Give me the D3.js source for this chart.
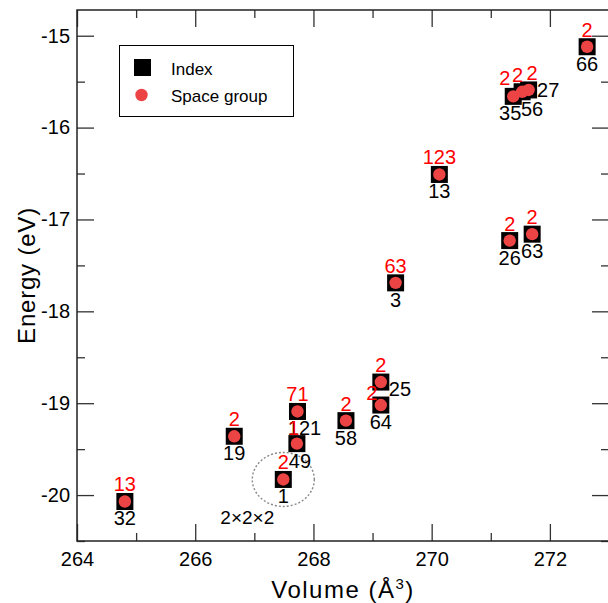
<!DOCTYPE html>
<html><head><meta charset="utf-8">
<script src="https://cdn.jsdelivr.net/npm/d3@7"></script>
<style>
html,body{margin:0;padding:0;background:#fff;}
svg{display:block;font-family:"Liberation Sans",Arial,sans-serif;}
</style></head>
<body>
<svg id="chart" width="608" height="603"></svg>
<script>
// ---- data ----
const indexLabels = [32, 19, 1, 49, 121, 58, 64, 25, 3, 13, 26, 63, 35, 56, 27, 66];
const spaceGroups = [13, 2, 2, 1, 71, 2, 2, 2, 63, 123, 2, 2, 2, 2, 2, 2];
const volumes  = [264.81, 266.66, 267.49, 267.72, 267.73, 268.55, 269.14, 269.14, 269.39, 270.13, 271.32, 271.70, 271.38, 271.53, 271.64, 272.63];
const energies = [-20.07, -19.36, -19.83, -19.44, -19.09, -19.19, -19.02, -18.77, -17.69, -16.51, -17.23, -17.16, -15.66, -15.61, -15.59, -15.12];
const xTicks = [264, 266, 268, 270, 272];
const xMinorTicks = [265, 267, 269, 271, 273];
const yTicks = [-20, -19, -18, -17, -16, -15];
const yMinorTicks = [-20.5, -19.5, -18.5, -17.5, -16.5, -15.5];
const legendItems = ["Index", "Space group"];
const supercellLabel = "2×2×2";
const supercellIndex = 1;

// ---- layout (label placement tweaks) ----
const sgOffset = {64: [-9, -5], 49: [-3, -9], 35: [-8.5, -11.5], 56: [-4.5, -10], 27: [3.5, -10]};
const idxOffset = {25: [8, 14, "start"], 27: [8.5, 7, "start"], 121: [7, 24], 49: [3, 24], 35: [-3, 24], 56: [10, 24]};

const svg = d3.select("#chart");
const L = 77, R = 609, T = 10, B = 541;
const x = d3.scaleLinear().domain([264, 273]).range([L, R]);
const y = d3.scaleLinear().domain([-20.5, -14.72]).range([B, T]);
const axisColor = "#333";
const fmt = d => String(d); // plain hyphen minus as in the reference

function styleAxis(g){
  g.select(".domain").remove();
  g.selectAll(".tick line").attr("stroke", axisColor).attr("stroke-width", 1.3);
  g.selectAll("text").attr("font-size", 20).attr("fill", "#000").attr("font-family", "Liberation Sans, Arial, sans-serif");
}
// bottom
svg.append("g").attr("transform", `translate(0,${B})`)
  .call(d3.axisBottom(x).tickValues(xTicks).tickSizeInner(-17).tickSizeOuter(0).tickPadding(11).tickFormat(fmt))
  .call(styleAxis);
svg.append("g").attr("transform", `translate(0,${B})`)
  .call(d3.axisBottom(x).tickValues(xMinorTicks).tickSizeInner(-8).tickSizeOuter(0).tickFormat(""))
  .call(styleAxis);
// top
svg.append("g").attr("transform", `translate(0,${T})`)
  .call(d3.axisTop(x).tickValues(xTicks).tickSizeInner(-17).tickSizeOuter(0).tickFormat(""))
  .call(styleAxis);
svg.append("g").attr("transform", `translate(0,${T})`)
  .call(d3.axisTop(x).tickValues(xMinorTicks).tickSizeInner(-8).tickSizeOuter(0).tickFormat(""))
  .call(styleAxis);
// left
svg.append("g").attr("transform", `translate(${L},0)`)
  .call(d3.axisLeft(y).tickValues(yTicks).tickSizeInner(-17).tickSizeOuter(0).tickPadding(7).tickFormat(fmt))
  .call(styleAxis);
svg.append("g").attr("transform", `translate(${L},0)`)
  .call(d3.axisLeft(y).tickValues(yMinorTicks).tickSizeInner(-8).tickSizeOuter(0).tickFormat(""))
  .call(styleAxis);
// right
svg.append("g").attr("transform", `translate(${R},0)`)
  .call(d3.axisRight(y).tickValues(yTicks).tickSizeInner(-17).tickSizeOuter(0).tickFormat(""))
  .call(styleAxis);
svg.append("g").attr("transform", `translate(${R},0)`)
  .call(d3.axisRight(y).tickValues(yMinorTicks).tickSizeInner(-8).tickSizeOuter(0).tickFormat(""))
  .call(styleAxis);
// frame
svg.append("rect").attr("x", L).attr("y", T).attr("width", R - L).attr("height", B - T)
  .attr("fill", "none").attr("stroke", "#222").attr("stroke-width", 1.5);

// axis titles
svg.append("text").attr("transform", `translate(35,${(T + B) / 2}) rotate(-90)`)
  .attr("text-anchor", "middle").attr("font-size", 24).attr("letter-spacing", 0.8).text("Energy (eV)");
const xt = svg.append("text").attr("x", (L + R) / 2).attr("y", 598)
  .attr("text-anchor", "middle").attr("font-size", 24).attr("letter-spacing", 1.5);
xt.append("tspan").text("Volume (Å");
xt.append("tspan").attr("font-size", 15).attr("dy", -9).text("3");
xt.append("tspan").attr("dy", 9).text(")");

const pts = indexLabels.map((id, i) => ({id, sg: spaceGroups[i], v: volumes[i], e: energies[i]}));

// supercell ellipse
const sc = pts.find(p => p.id === supercellIndex);
svg.append("ellipse").attr("cx", x(sc.v)).attr("cy", y(sc.e)).attr("rx", 31).attr("ry", 27)
  .attr("fill", "none").attr("stroke", "#888").attr("stroke-width", 1.4).attr("stroke-dasharray", "2,2");
svg.append("text").attr("x", x(sc.v) - 36).attr("y", y(sc.e) + 44.5)
  .attr("text-anchor", "middle").attr("font-size", 19).text(supercellLabel);

// markers
const S = 17;
svg.append("g").selectAll("rect").data(pts).join("rect")
  .attr("x", d => x(d.v) - S / 2).attr("y", d => y(d.e) - S / 2)
  .attr("width", S).attr("height", S).attr("fill", "#000");
svg.append("g").selectAll("circle").data(pts).join("circle")
  .attr("cx", d => x(d.v)).attr("cy", d => y(d.e)).attr("r", 6.2).attr("fill", "#ec4444");

// labels
svg.append("g").selectAll("text").data(pts).join("text")
  .attr("x", d => x(d.v) + (idxOffset[d.id] ? idxOffset[d.id][0] : 0))
  .attr("y", d => y(d.e) + (idxOffset[d.id] ? idxOffset[d.id][1] : 24))
  .attr("text-anchor", d => (idxOffset[d.id] && idxOffset[d.id][2]) || "middle")
  .attr("font-size", 20).attr("fill", "#000").text(d => d.id);
svg.append("g").selectAll("text").data(pts).join("text")
  .attr("x", d => x(d.v) + (sgOffset[d.id] ? sgOffset[d.id][0] : 0))
  .attr("y", d => y(d.e) + (sgOffset[d.id] ? sgOffset[d.id][1] : -10))
  .attr("text-anchor", "middle")
  .attr("font-size", 20).attr("fill", "#ff0000").text(d => d.sg);

// legend
const lg = svg.append("g");
lg.append("rect").attr("x", 119.5).attr("y", 45.5).attr("width", 174).attr("height", 71)
  .attr("fill", "#fff").attr("stroke", "#000").attr("stroke-width", 1);
lg.append("rect").attr("x", 134).attr("y", 59).attr("width", 17).attr("height", 17).attr("fill", "#000");
lg.append("circle").attr("cx", 141.5).attr("cy", 95).attr("r", 6.2).attr("fill", "#ec4444");
lg.selectAll("text.l").data(legendItems).join("text").attr("class", "l")
  .attr("x", 171).attr("y", (d, i) => 75 + i * 27).attr("font-size", 17).text(d => d);
</script>
</body></html>
